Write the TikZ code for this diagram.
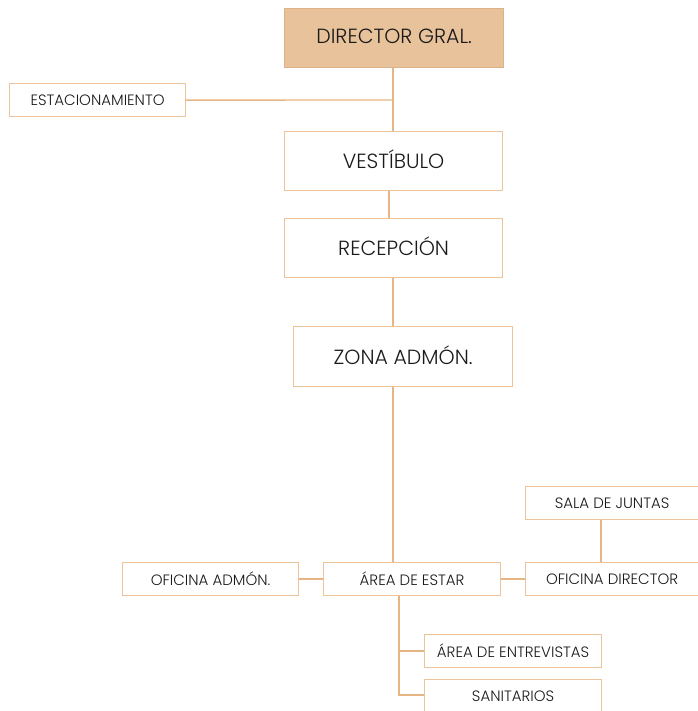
\documentclass[tikz,border=0pt]{standalone}
\usepackage{fontspec}
\setmainfont{Poppins}[UprightFont=* Light]
\definecolor{linec}{HTML}{E6B583}
\definecolor{boxline}{HTML}{EDC39A}
\definecolor{headfill}{HTML}{E8C29B}
\definecolor{headline}{HTML}{DEB186}
\definecolor{txt}{HTML}{1A1A1A}
\tikzset{
  box/.style={draw=boxline, line width=1.2pt, text=txt, inner sep=0pt, anchor=north west},
  bigbox/.style={box, font=\fontsize{20.5}{24}\selectfont},
  smallbox/.style={box, font=\fontsize{15}{18}\selectfont},
  headbox/.style={bigbox, fill=headfill, draw=headline},
  link/.style={draw=linec, line width=1.4pt}
}
\newcommand{\up}[1]{\raisebox{3pt}{#1}}
\begin{document}
\begin{tikzpicture}[x=1pt,y=-1pt]
\useasboundingbox (0,0) rectangle (697,711);
% main column
\node[headbox, minimum width=219pt, minimum height=59pt] (dir) at (284,8) {\up{DIRECTOR GRAL.}};
\node[smallbox, minimum width=176pt, minimum height=33pt] (est) at (9,83) {ESTACIONAMIENTO};
\node[bigbox, minimum width=218pt, minimum height=59pt] (vest) at (284,131) {\up{VESTÍBULO}};
\node[bigbox, minimum width=218pt, minimum height=59pt] (rec) at (284,218) {\up{RECEPCIÓN}};
\node[bigbox, minimum width=219pt, minimum height=60pt] (zona) at (293,326) {\up{ZONA ADMÓN.}};
% lower level
\node[smallbox, minimum width=177pt, minimum height=33pt] (estar) at (323,562) {ÁREA DE ESTAR};
\node[smallbox, minimum width=176pt, minimum height=33pt] (ofadm) at (122,562) {OFICINA ADMÓN.};
\node[smallbox, minimum width=173pt, minimum height=33pt] (ofdir) at (525,562) {OFICINA DIRECTOR};
\node[smallbox, minimum width=173pt, minimum height=33pt] (sala) at (525,486) {SALA DE JUNTAS};
\node[smallbox, minimum width=177pt, minimum height=33pt] (entr) at (424,634) {ÁREA DE ENTREVISTAS};
\node[smallbox, minimum width=177pt, minimum height=33pt] (sani) at (424,679) {SANITARIOS};
% connectors
\coordinate (j1) at (393,100);
\draw[link] (dir.south -| j1) -- (vest.north -| j1);
\draw[link] (est.east) -- (j1);
\draw[link] (vest.south -| 389,0) -- (rec.north -| 389,0);
\draw[link] (rec.south -| 393,0) -- (zona.north -| 393,0);
\draw[link] (zona.south -| 393,0) -- (estar.north -| 393,0);
\draw[link] (ofadm.east) -- (estar.west);
\draw[link] (estar.east) -- (ofdir.west);
\draw[link] (sala.south -| 601,0) -- (ofdir.north -| 601,0);
\coordinate (j2) at (399,695);
\draw[link] (estar.south -| j2) -- (j2) -- (sani.west |- j2);
\draw[link] (entr.west) -- (entr.west -| j2);
\end{tikzpicture}
\end{document}
